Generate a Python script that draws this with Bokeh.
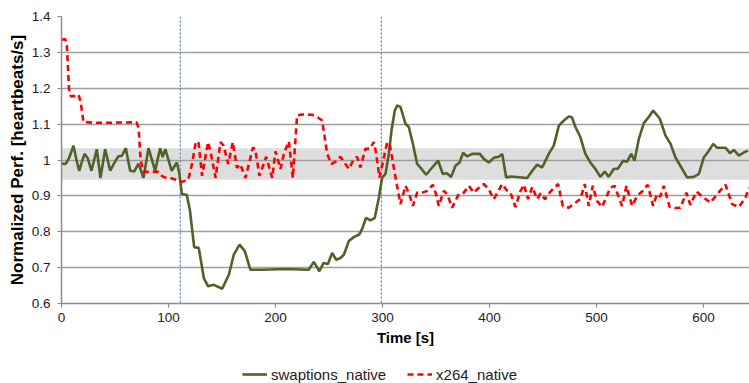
from bokeh.plotting import figure
from bokeh.layouts import column
from bokeh.models import Range1d, FixedTicker, BoxAnnotation, Span, Legend, LegendItem
from bokeh.embed import file_html
from bokeh.resources import INLINE

# ---- data ----
swap_t = [0, 4, 7, 11.2, 14, 16.5, 19, 21.5, 24.5, 28, 33, 36.4, 40.8, 45.5, 49, 53, 56.5, 60.1,
          64.2, 68, 72, 76.6, 81.3, 87.5, 92.2, 94.5, 97, 103, 107.8, 110, 112.5, 117.1, 120, 124,
          128.3, 133, 137, 142.4, 150.2, 156.4, 161, 166.4, 171.3, 176.6, 187.5, 209.3, 231, 235.8,
          241, 245, 249, 252.9, 256.7, 260.7, 263.9, 268.5, 273.2, 278.5, 281, 284.7, 288.8, 292.8,
          296.6, 299.7, 302.8, 305.9, 308.4, 311.5, 313.7, 316.8, 321.5, 324.6, 328.4, 332.4, 336.5,
          340.8, 346.4, 352, 356.4, 360, 364.2, 368.2, 372, 375.4, 379.1, 383.8, 391, 394.7, 399.4,
          404, 408.7, 411.9, 415.6, 419.6, 427.5, 435.2, 440, 444.5, 449.2, 455.4, 460.1, 464.8,
          469.5, 474.1, 477, 480.3, 484.9, 489.6, 494.3, 499, 503.6, 507.7, 511.4, 516.1, 520, 524.9,
          528.5, 532.4, 535.5, 539.6, 544.2, 548.9, 553, 559.2, 564.5, 569.2, 573.8, 580.1, 584.8,
          591, 595.7, 600.3, 605, 609.1, 612.8, 620.6, 624.7, 628.4, 633.1, 637.7, 641.5]
swap_v = [0.99, 0.989, 1.005, 1.04, 1.0, 0.97, 0.995, 1.017, 1.005, 0.97, 1.03, 0.95, 1.03, 0.97,
          0.99, 1.01, 1.012, 1.033, 0.97, 0.968, 0.99, 0.95, 1.033, 0.97, 1.033, 1.008, 1.03, 0.97,
          0.993, 0.965, 0.905, 0.903, 0.86, 0.757, 0.755, 0.671, 0.648, 0.652, 0.641, 0.68, 0.736,
          0.764, 0.746, 0.694, 0.694, 0.696, 0.694, 0.716, 0.69, 0.713, 0.71, 0.741, 0.722, 0.727,
          0.736, 0.774, 0.785, 0.793, 0.808, 0.839, 0.832, 0.839, 0.895, 0.951, 0.961, 1.017, 1.082,
          1.138, 1.152, 1.148, 1.101, 1.092, 1.045, 0.989, 0.975, 0.959, 0.979, 0.998, 0.961, 0.963,
          0.953, 0.984, 0.993, 1.02, 1.01, 1.017, 1.017, 1.003, 0.993, 1.006, 1.009, 1.017, 0.951,
          0.954, 0.952, 0.95, 0.97, 0.987, 0.979, 1.017, 1.04, 1.096, 1.11, 1.121, 1.119, 1.092,
          1.064, 1.017, 0.993, 0.975, 0.953, 0.968, 0.953, 0.975, 0.976, 0.998, 0.995, 1.017, 0.998,
          1.059, 1.103, 1.12, 1.138, 1.115, 1.068, 1.045, 1.007, 0.975, 0.951, 0.953, 0.961, 1.007,
          1.026, 1.045, 1.034, 1.034, 1.019, 1.028, 1.012, 1.021, 1.026]

x264_t = [0, 3.5, 5, 7, 8.5, 13, 16, 18, 20.5, 30, 50, 70, 72, 74, 76.5, 85, 90.5, 94, 97, 104, 108,
          112.5, 118.5, 122, 125.5, 128, 131.4, 134, 137, 139.5, 144, 148.6, 151.5, 155.8, 160.1,
          164, 167, 172, 178.8, 181, 185, 191.3, 196.9, 200, 204.7, 208, 212.5, 216.2, 220.2, 225,
          234.3, 239, 243.6, 248.3, 252.3, 256, 260.7, 264, 268.5, 272.5, 276.3, 279.4, 284, 288,
          291.9, 294, 297.2, 301.3, 304.4, 307, 312.2, 316.8, 321.5, 325, 328.4, 332.4, 337, 341.8,
          347, 350, 352.6, 357.3, 360.5, 365.1, 371.3, 376, 380.7, 385.3, 391, 394.7, 399, 404,
          411.9, 416.5, 419.5, 424.3, 429, 432.1, 436.1, 440, 444.5, 447.7, 451.8, 457, 464.1,
          468.5, 474.1, 480.3, 484.9, 489, 492.8, 496.5, 500.5, 505.2, 513, 516.8, 523.9, 528,
          533.3, 538, 542.6, 547.9, 552.9, 556.5, 559.5, 562.9, 568.4, 573, 578.4, 584, 587.7,
          593.5, 600.3, 606.5, 612.8, 620.6, 626.8, 633.1, 639.3, 642.4]
x264_v = [1.335, 1.337, 1.32, 1.2, 1.178, 1.178, 1.182, 1.16, 1.106, 1.104, 1.104, 1.105, 1.09, 1.0,
          0.967, 0.967, 0.967, 0.955, 0.951, 0.948, 0.944, 0.939, 0.945, 0.99, 1.05, 1.05, 0.956,
          1.0, 1.05, 1.02, 0.95, 1.05, 1.04, 0.989, 1.05, 0.978, 0.988, 0.95, 1.034, 1.031, 0.956,
          1.009, 0.95, 1.024, 0.975, 1.02, 1.052, 0.95, 1.124, 1.127, 1.126, 1.12, 1.11, 1.017,
          0.989, 0.995, 1.009, 0.995, 0.975, 0.998, 1.009, 0.979, 1.031, 1.031, 1.05, 1.02, 0.951,
          1.007, 1.05, 1.04, 0.951, 0.877, 0.928, 0.905, 0.872, 0.909, 0.909, 0.914, 0.931, 0.905,
          0.872, 0.914, 0.905, 0.867, 0.905, 0.909, 0.928, 0.909, 0.925, 0.933, 0.92, 0.891, 0.933,
          0.914, 0.91, 0.869, 0.914, 0.931, 0.891, 0.925, 0.891, 0.907, 0.891, 0.912, 0.933, 0.872,
          0.867, 0.881, 0.891, 0.933, 0.872, 0.928, 0.886, 0.869, 0.923, 0.928, 0.872, 0.928, 0.872,
          0.9, 0.912, 0.931, 0.872, 0.905, 0.898, 0.928, 0.869, 0.866, 0.867, 0.909, 0.875, 0.912,
          0.895, 0.881, 0.905, 0.931, 0.877, 0.869, 0.895, 0.923]

band_low = 0.945
band_high = 1.033
phase_marks = [111, 299]

x_ticks = [0, 100, 200, 300, 400, 500, 600]
y_ticks = [0.6, 0.7, 0.8, 0.9, 1.0, 1.1, 1.2, 1.3, 1.4]
y_tick_labels = ["0.6", "0.7", "0.8", "0.9", "1", "1.1", "1.2", "1.3", "1.4"]

series_names = ["swaptions_native", "x264_native"]

FONT = "Liberation Sans"
GREEN = "#4f6228"
RED = "#ff0000"

p = figure(width=749, height=350, output_backend="svg", toolbar_location=None,
           x_range=Range1d(0, 643), y_range=Range1d(0.6, 1.4),
           min_border_left=61, min_border_right=0, min_border_top=16, min_border_bottom=47)
p.outline_line_color = None
p.background_fill_color = "white"

# band
band = BoxAnnotation(bottom=band_low, top=band_high, fill_color="#dedede", fill_alpha=1.0,
                     line_color=None, level="image")
p.add_layout(band)

# grid
p.xgrid.visible = False
p.ygrid.ticker = FixedTicker(ticks=y_ticks)
p.ygrid.grid_line_color = "#9e9e9e"
p.ygrid.grid_line_width = 1.5

# phase lines
for m in phase_marks:
    p.add_layout(Span(location=m, dimension="height", line_color="#4f81bd",
                      line_width=1.2, line_dash="2 2", level="underlay"))

r_swap = p.line(swap_t, swap_v, line_color=GREEN, line_width=2.6)
r_x264 = p.line(x264_t, x264_v, line_color=RED, line_width=2.6, line_dash="6 4")

# axes
p.xaxis.ticker = FixedTicker(ticks=x_ticks)
p.yaxis.ticker = FixedTicker(ticks=y_ticks)
p.yaxis.major_label_overrides = {t: l for t, l in zip(y_ticks, y_tick_labels)}
for ax in (p.xaxis[0], p.yaxis[0]):
    ax.axis_line_color = "#8c8c8c"
    ax.axis_line_width = 1.5
    ax.major_tick_line_color = "#8c8c8c"
    ax.major_tick_line_width = 1.2
    ax.minor_tick_line_color = None
    ax.major_tick_in = 0
    ax.major_tick_out = 4
    ax.major_label_text_font = FONT
    ax.major_label_text_font_size = "13.5px"
    ax.major_label_text_color = "#222222"
    ax.axis_label_text_font = FONT
    ax.axis_label_text_font_style = "bold"
    ax.axis_label_text_color = "#000000"

p.xaxis.axis_label = "Time [s]"
p.xaxis.axis_label_text_font_size = "15px"
p.yaxis.axis_label = "Normalized Perf. [heartbeats/s]"
p.yaxis.axis_label_text_font_size = "17px"
p.xaxis.major_label_standoff = 5
p.xaxis.axis_label_standoff = 4
p.yaxis.major_label_standoff = 7
p.yaxis.axis_label_standoff = 2

# ---- legend strip below the chart (series drawn out of view, only the legend shows) ----
q = figure(width=749, height=33, output_backend="svg", toolbar_location=None,
           x_axis_type=None, y_axis_type=None, min_border=0,
           x_range=Range1d(-200, -100), y_range=Range1d(0.6, 1.4))
q.outline_line_color = None
q.xgrid.visible = False
q.ygrid.visible = False
k_swap = q.line(swap_t, swap_v, line_color=GREEN, line_width=2.6)
k_x264 = q.line(x264_t, x264_v, line_color=RED, line_width=2.6, line_dash="6 4")

legend = Legend(items=[LegendItem(label=series_names[0], renderers=[k_swap]),
                       LegendItem(label=series_names[1], renderers=[k_x264])],
                orientation="horizontal", location=(181, -1))
legend.border_line_color = None
legend.background_fill_alpha = 0
legend.padding = 0
legend.margin = 0
legend.spacing = 21
legend.glyph_width = 25
legend.label_standoff = 4
legend.label_text_font = FONT
legend.label_text_font_size = "15px"
legend.label_text_color = "#222222"
q.add_layout(legend)

layout = column(p, q, spacing=0)
open("out.html", "w").write(file_html(layout, INLINE))
